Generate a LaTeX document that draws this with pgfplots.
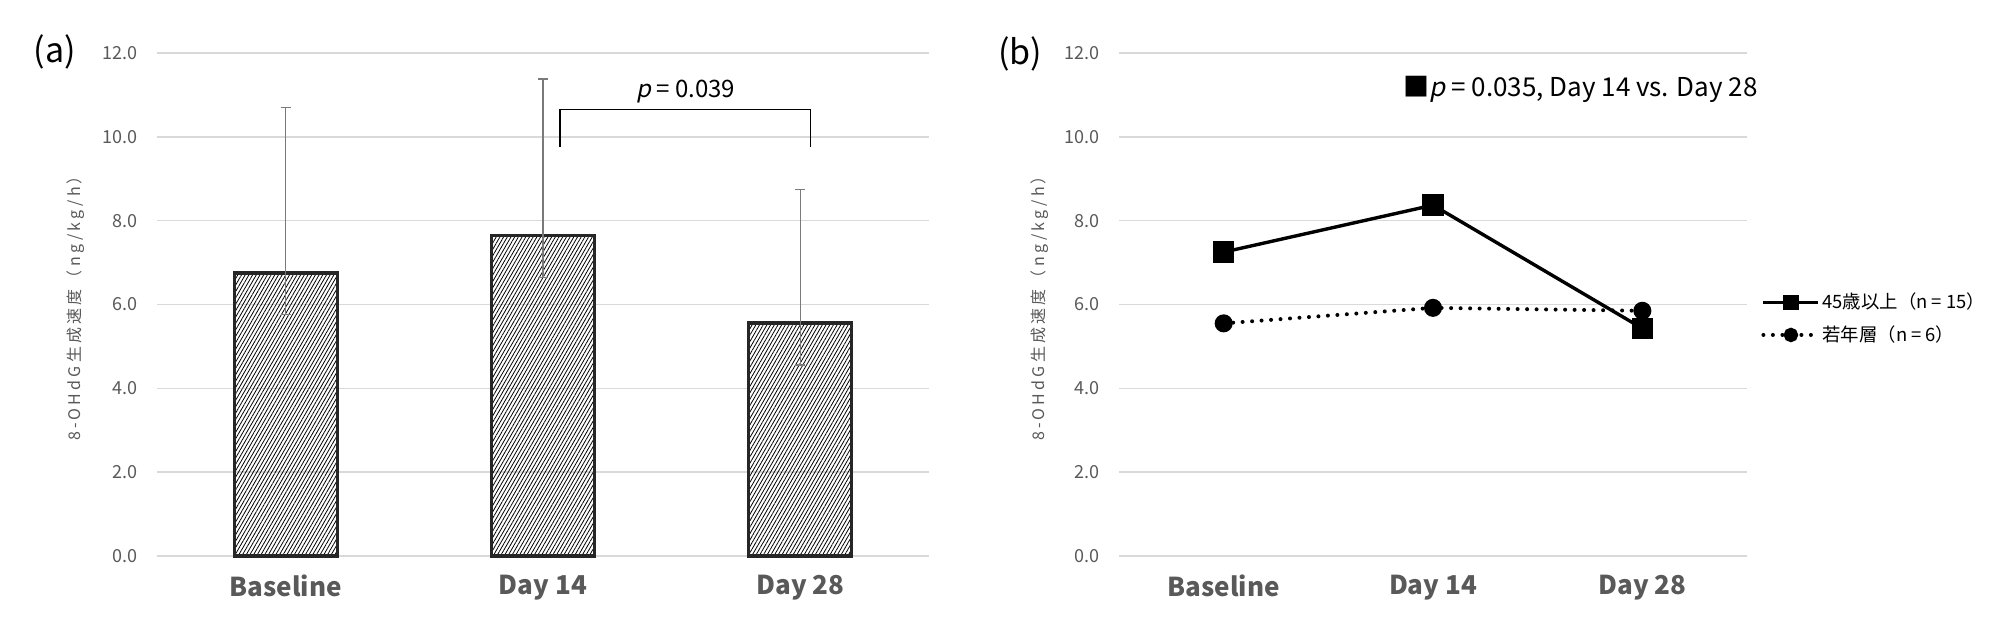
\documentclass[border=0pt]{standalone}
\usepackage{fontspec}
\setmainfont{Noto Sans CJK JP}[AutoFakeSlant=0.2]
\newfontfamily\labfont{Noto Sans CJK JP}[LetterSpace=20]
\usepackage{pgfplots}
\usepackage{pgfplotstable}
\pgfplotsset{compat=1.18}
\usetikzlibrary{patterns.meta}
\definecolor{tickgray}{HTML}{595959}
\definecolor{errgray}{HTML}{7A7A7A}
\definecolor{gridgray}{HTML}{D9D9D9}
\definecolor{bardraw}{HTML}{262626}

\pgfplotstableread{
x y ep em
0 6.75 3.95 0.99
1 7.65 3.73 1.01
2 5.56 3.18 1.00
}\bardata

\pgfplotsset{
  panel/.style={
    scale only axis, height=251.5pt,
    xmin=-0.5, xmax=2.5, ymin=0, ymax=12,
    ytick={0,2,4,6,8,10,12},
    xtick={0,1,2}, xticklabels={Baseline,Day 14,Day 28},
    axis line style={draw=none},
    major tick style={draw=none},
    ymajorgrids, major grid style={gridgray, line width=0.8pt},
    yticklabel style={font=\fontsize{9}{10}\selectfont, text=tickgray, xshift=-6pt,
      /pgf/number format/fixed, /pgf/number format/fixed zerofill,
      /pgf/number format/precision=1, /pgf/number format/assume math mode=true},
    xticklabel style={font=\fontsize{13}{15}\selectfont\bfseries, text=tickgray, yshift=-6pt},
    ylabel={8-OHdG生成速度（ng/kg/h）},
    clip=false,
  }
}

\begin{document}
\begin{tikzpicture}
\useasboundingbox (0,0) rectangle (1000pt,321pt);
\node[font=\fontsize{17}{19}\selectfont] at (27.5pt,295pt) {(a)};
\node[font=\fontsize{17}{19}\selectfont] at (510pt,294pt) {(b)};

\begin{axis}[panel, at={(78.5pt,43pt)}, anchor=south west, width=386pt,
  ylabel style={font=\labfont\fontsize{8}{9}\selectfont, text=tickgray, at={(axis description cs:-0.105,0.5)}, anchor=center}]
\addplot[ybar, bar width=0.4, draw=bardraw, line width=1.6pt,
  pattern={Lines[angle=60,distance=1.6pt,line width=0.4pt]}, pattern color=black,
  error bars/.cd, y dir=both, y explicit,
  error bar style={errgray, line width=0.65pt},
  error mark options={errgray, line width=0.65pt, mark size=2.5pt, rotate=90}]
  table[x=x, y=y, y error plus=ep, y error minus=em]{\bardata};
\draw[black, line width=0.8pt] (axis cs:1.066,9.76) -- (axis cs:1.066,10.65) -- (axis cs:2.04,10.65) -- (axis cs:2.04,9.76);
\node[font=\fontsize{12}{14}\selectfont, anchor=center] at (axis cs:1.554,11.07) {\textit{p} = 0.039};
\end{axis}

\begin{axis}[panel, at={(559.5pt,43pt)}, anchor=south west, width=314pt,
  ylabel style={font=\labfont\fontsize{8}{9}\selectfont, text=tickgray, at={(axis description cs:-0.126,0.5)}, anchor=center},
  legend style={at={(axis description cs:1,0.472)}, anchor=west, xshift=7pt, draw=none, fill=none,
    font=\fontsize{9.2}{11}\selectfont, row sep=5pt, inner sep=0pt, nodes={inner sep=1pt, anchor=west}},
  legend cell align=left,
  legend image code/.code={\draw[mark repeat=2, mark phase=2, #1] plot coordinates {(0pt,0pt) (13.75pt,0pt) (27.5pt,0pt)};}]
\addplot[black, line width=1.7pt, mark=square*, mark size=4.5pt, mark options={solid},
  legend image post style={mark size=3pt}]
  coordinates {(0,7.25) (1,8.37) (2,5.43)};
\addlegendentry{45歳以上（n = 15）}
\addplot[black, line width=2pt, dash pattern=on 0pt off 4.75pt, line cap=round,
  mark=*, mark size=3.5pt, mark options={solid},
  legend image post style={mark size=2.6pt}]
  coordinates {(0,5.55) (1,5.92) (2,5.85)};
\addlegendentry{若年層（n = 6）}
\node[font=\fontsize{13}{15}\selectfont, anchor=center] at (axis cs:1.705,11.14) {■\textit{p} = 0.035, Day 14 vs. Day 28};
\end{axis}
\end{tikzpicture}
\end{document}
